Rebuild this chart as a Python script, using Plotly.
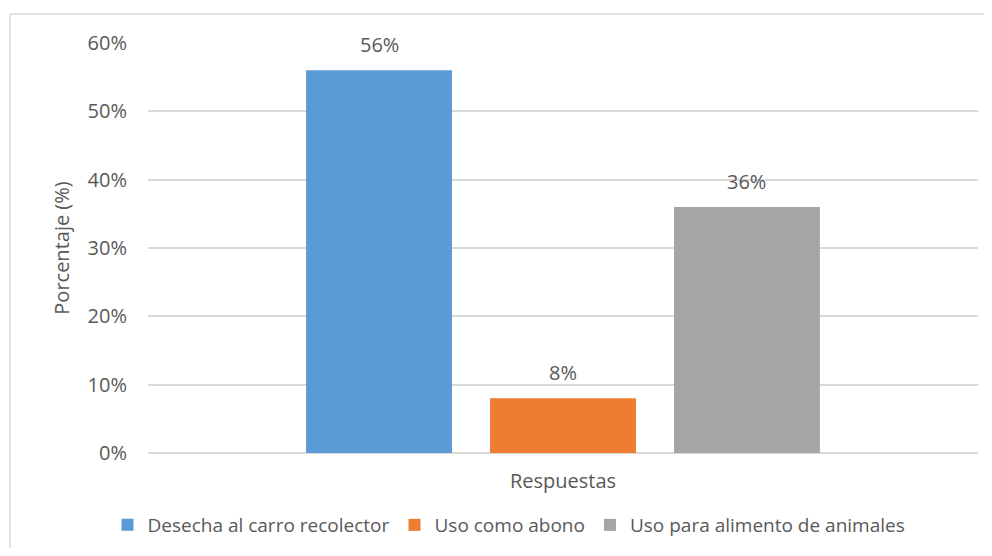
import plotly.graph_objects as go

category = ["Respuestas"]
series_names = ["Desecha al carro recolector", "Uso como abono", "Uso para alimento de animales"]
series_values = [56, 8, 36]
series_colors = ["#5b9bd5", "#ed7d31", "#a5a5a5"]
y_ticks = [0, 10, 20, 30, 40, 50, 60]
y_tick_labels = ["0%", "10%", "20%", "30%", "40%", "50%", "60%"]

# page has an 8px body margin; figure coordinates = page coordinates - 8
W, H = 976, 540
L, R, T, B = 140, 6, 35, 95
pw, ph = W - L - R, H - T - B

FONT = "Open Sans"
TXT = "#595959"
FS = 20

BARGAP = 0.335
GROUPGAP = 0.207

fig = go.Figure()
for name, val, col in zip(series_names, series_values, series_colors):
    fig.add_trace(go.Bar(
        x=category, y=[val], name=name, marker_color=col, marker_line_width=0,
    ))

# data labels above the bars (offset in pixels from the group center)
slot = pw * (1 - BARGAP) / len(series_values)
annotations = []
for i, val in enumerate(series_values):
    annotations.append(dict(
        x=category[0], y=val, xref="x", yref="y", text=f"{val}%", showarrow=False,
        xshift=(i - (len(series_values) - 1) / 2) * slot, yshift=10, yanchor="bottom",
        font=dict(family=FONT, size=FS, color=TXT),
    ))

def px_x(p):
    return (p - L) / pw

def px_y(p):
    return 1 - (p - T) / ph

fig.update_layout(
    width=W, height=H,
    margin=dict(l=L, r=R, t=T, b=B, autoexpand=False),
    paper_bgcolor="white", plot_bgcolor="white",
    barmode="group", bargap=BARGAP, bargroupgap=GROUPGAP,
    font=dict(family=FONT, size=FS, color=TXT),
    xaxis=dict(showticklabels=False, showline=False, ticks="", showgrid=False,
               title=dict(text="Respuestas", font=dict(size=FS, color=TXT), standoff=20)),
    yaxis=dict(range=[0, 60], tickvals=y_ticks, ticktext=y_tick_labels,
               showgrid=True, gridcolor="#d9d9d9", gridwidth=1.5,
               zeroline=True, zerolinecolor="#d9d9d9", zerolinewidth=1.5,
               showline=False, ticks="", ticklen=0, ticklabelstandoff=20,
               tickfont=dict(size=FS, color=TXT),
               title=dict(text="Porcentaje (%)", font=dict(size=FS, color=TXT), standoff=12)),
    legend=dict(orientation="h", x=px_x(501), xanchor="center", y=px_y(517), yanchor="middle",
                font=dict(size=19, color=TXT), traceorder="normal",
                itemwidth=30, tracegroupgap=0),
    showlegend=True,
    annotations=annotations,
    shapes=[
        dict(type="line", xref="paper", yref="paper", x0=px_x(2), x1=px_x(W),
             y0=px_y(6), y1=px_y(6), line=dict(color="#d9d9d9", width=1.5)),
        dict(type="line", xref="paper", yref="paper", x0=px_x(2), x1=px_x(2),
             y0=px_y(6), y1=px_y(H), line=dict(color="#d9d9d9", width=1.5)),
    ],
)

fig.write_html("out.html")
